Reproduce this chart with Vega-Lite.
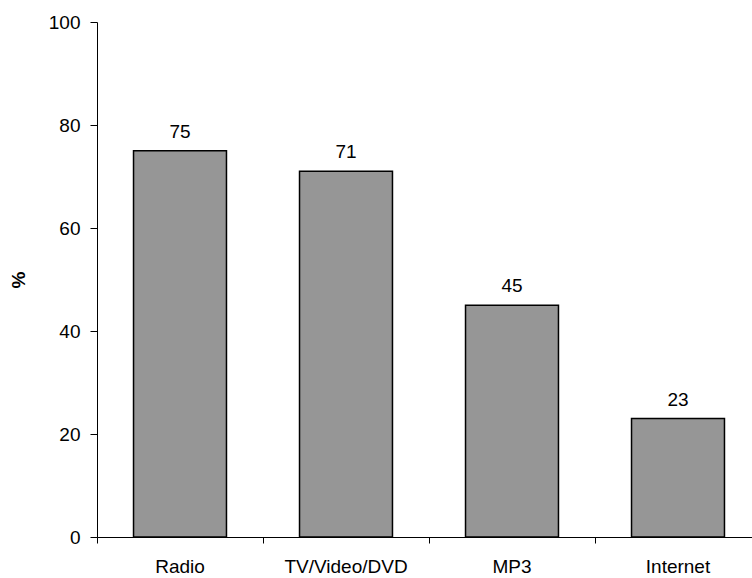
{
  "$schema": "https://vega.github.io/schema/vega-lite/v6.json",
  "width": 655,
  "height": 515,
  "autosize": "none",
  "padding": {"left": 97, "top": 22, "right": 0, "bottom": 41},
  "background": "white",
  "config": {
    "view": {"stroke": null},
    "font": "Liberation Sans",
    "axis": {"grid": false, "domainColor": "black", "tickColor": "black", "labelColor": "black", "titleColor": "black", "labelFont": "Liberation Sans", "titleFont": "Liberation Sans", "labelFontSize": 19}
  },
  "data": {"values": [
    {"category": "Radio", "value": 75},
    {"category": "TV/Video/DVD", "value": 71},
    {"category": "MP3", "value": 45},
    {"category": "Internet", "value": 23}
  ]},
  "encoding": {
    "x": {
      "field": "category", "type": "nominal", "sort": null,
      "scale": {"type": "band", "paddingInner": 0, "paddingOuter": 0, "range": [0, 664]},
      "axis": {"title": null, "labelAngle": 0, "bandPosition": 0, "tickSize": 6, "labelPadding": 14, "domainWidth": 1, "labelAlign": "center"}
    },
    "y": {
      "field": "value", "type": "quantitative",
      "scale": {"domain": [0, 100], "nice": false},
      "axis": {"title": "%", "titleFontWeight": "bold", "titleFontSize": 19, "titlePadding": 20, "values": [0, 20, 40, 60, 80, 100], "tickSize": 7, "labelPadding": 10}
    }
  },
  "layer": [
    {"mark": {"type": "bar", "fill": "#969696", "stroke": "black", "strokeWidth": 1.5, "width": {"band": 0.56}}},
    {"mark": {"type": "text", "baseline": "bottom", "dy": -9, "fontSize": 19, "color": "black"}, "encoding": {"text": {"field": "value", "type": "quantitative"}}}
  ]
}
